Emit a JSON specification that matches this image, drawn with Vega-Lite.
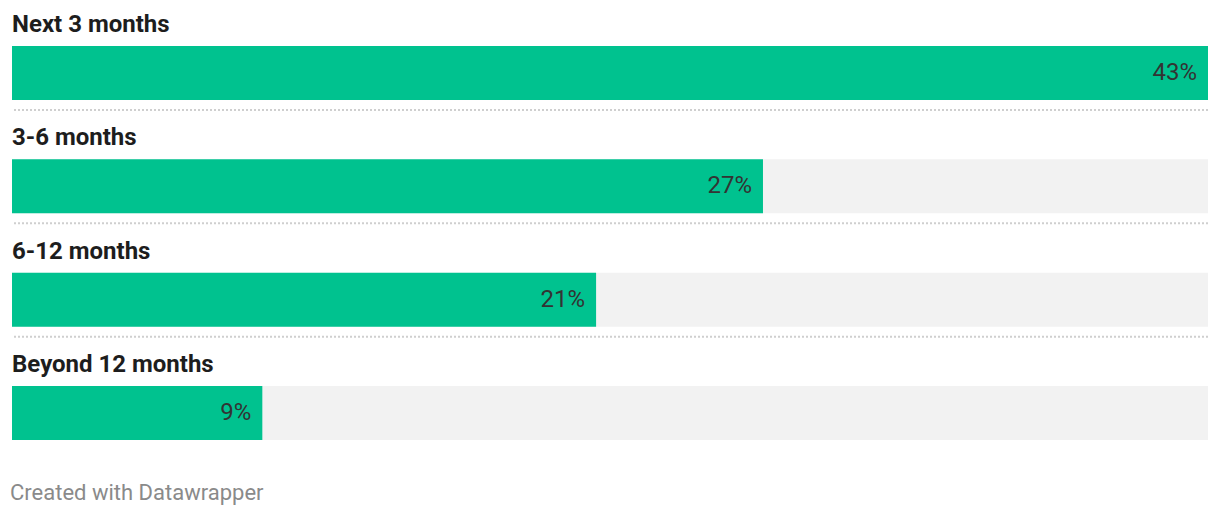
{
  "$schema": "https://vega.github.io/schema/vega-lite/v6.json",
  "width": 1196,
  "height": 453.33,
  "autosize": {"type": "none"},
  "padding": {"left": 12, "right": 12, "top": 0, "bottom": 62.67},
  "background": "white",
  "config": {"font": "Roboto", "view": {"stroke": null}},
  "title": {
    "text": "Created with Datawrapper",
    "orient": "bottom",
    "anchor": "start",
    "offset": 30,
    "dx": -1,
    "fontSize": 22,
    "fontWeight": "normal",
    "font": "Roboto",
    "color": "#8a8a8a"
  },
  "data": {
    "values": [
      {"period": "Next 3 months", "share": 43, "label": "43%"},
      {"period": "3-6 months", "share": 27, "label": "27%"},
      {"period": "6-12 months", "share": 21, "label": "21%"},
      {"period": "Beyond 12 months", "share": 9, "label": "9%"}
    ]
  },
  "encoding": {
    "y": {
      "field": "period",
      "type": "nominal",
      "sort": null,
      "axis": null,
      "scale": {
        "domain": ["Next 3 months", "3-6 months", "6-12 months", "Beyond 12 months"],
        "paddingInner": 0,
        "paddingOuter": 0
      }
    }
  },
  "layer": [
    {
      "mark": {"type": "bar", "height": 54, "yOffset": 16.33, "color": "#f2f2f2"},
      "encoding": {
        "x": {"datum": 0, "type": "quantitative", "axis": null, "scale": {"domain": [0, 43], "nice": false}},
        "x2": {"datum": 43}
      }
    },
    {
      "mark": {"type": "bar", "height": 54, "yOffset": 16.33, "color": "#00c28f"},
      "encoding": {
        "x": {"field": "share", "type": "quantitative", "axis": null, "scale": {"domain": [0, 43], "nice": false}}
      }
    },
    {
      "mark": {"type": "text", "align": "right", "baseline": "middle", "dx": -11, "yOffset": 16.33, "fontSize": 24, "color": "#333333", "font": "Roboto"},
      "encoding": {
        "x": {"field": "share", "type": "quantitative"},
        "text": {"field": "label"}
      }
    },
    {
      "mark": {"type": "text", "align": "left", "baseline": "middle", "yOffset": -31.5, "fontSize": 24, "fontWeight": "bold", "color": "#1d1d1d", "font": "Roboto"},
      "encoding": {
        "x": {"datum": 0, "type": "quantitative"},
        "text": {"field": "period"}
      }
    },
    {
      "transform": [{"filter": "datum.period !== 'Beyond 12 months'"}],
      "mark": {"type": "rule", "color": "#cfcfcf", "strokeWidth": 2, "strokeDash": [2, 2], "yOffset": 53.33},
      "encoding": {}
    }
  ]
}
